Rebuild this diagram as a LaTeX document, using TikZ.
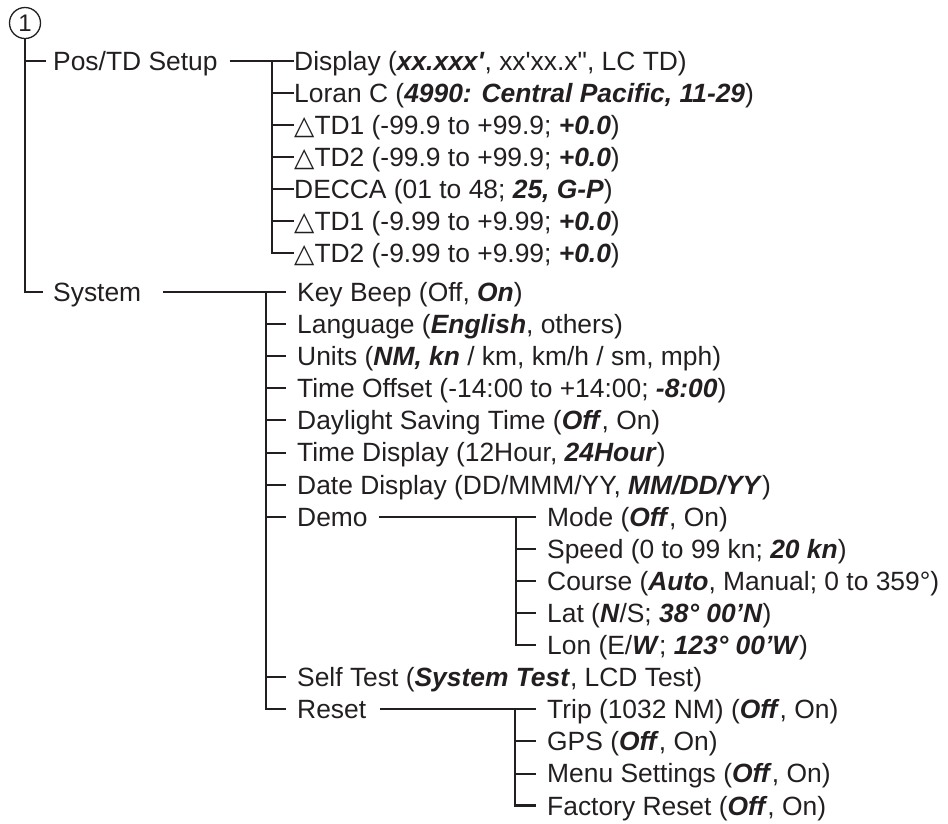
\documentclass[tikz,border=0pt]{standalone}
\usepackage{fontspec}
\setmainfont{Liberation Sans}[Ligatures=TeXOff]
\newfontfamily\symfont{DejaVu Sans}
\usetikzlibrary{calc}
\newcommand{\bi}[1]{\textbf{\textit{#1}}}
\newcommand{\tri}{{\symfont △}}
\definecolor{ink}{HTML}{231F20}
\begin{document}
\begin{tikzpicture}[x=1pt,y=-1pt,
  every node/.style={font=\fontsize{26.4}{30}\selectfont, text=ink},
  item/.style={anchor=west, inner sep=0pt, text height=25.4pt, text depth=6.5pt},
  bus/.style={draw=ink, line width=2.3pt, line join=miter, line cap=butt},
  tick/.style={draw=ink, line width=2pt, line cap=butt},
  gap/.style={shorten >=11pt}]
\useasboundingbox (0,0) rectangle (948,823);

% root
\node[circle, draw=ink, line width=1.3pt, minimum size=31pt, inner sep=0pt,
      font=\fontsize{24}{24}\selectfont] (root) at (25,23) {1};

% level 1
\node[item] (posL) at (53,61) {Pos/TD Setup};
\node[item] (sysL) at (53,292) {System};
\draw[bus] (root.south) -- (root.south |- sysL.west) -- ($(sysL.west)+(-10,0)$);
\draw[tick] (root.south |- posL.west) -- ($(posL.west)+(-7,0)$);

% Pos/TD setup items
\node[item] (p1) at (294,61)  {Display (\bi{xx.xxx'}, xx'xx.x", LC TD)};
\node[item] (p2) at (294,93)  {Loran C (\bi{4990: Central Pacific, 11-29})};
\node[item] (p3) at (294,125) {\tri TD1 (-99.9 to +99.9; \bi{+0.0})};
\node[item] (p4) at (294,157) {\tri TD2 (-99.9 to +99.9; \bi{+0.0})};
\node[item] (p5) at (294,189) {DECCA (01 to 48; \bi{25, G-P})};
\node[item] (p6) at (294,221) {\tri TD1 (-9.99 to +9.99; \bi{+0.0})};
\node[item] (p7) at (294,253) {\tri TD2 (-9.99 to +9.99; \bi{+0.0})};
\coordinate (posbus) at (272,61);
\draw[tick] ($(posL.east)+(12,0)$) -- (p1.west);
\draw[bus] (posbus) |- (p7.west);
\foreach \i in {2,...,6} \draw[tick] (p\i.west -| posbus) -- (p\i.west);

% System items
\node[item] (s1)  at (297,292.0) {Key Beep (Off, \bi{On})};
\node[item] (s2)  at (297,324.1) {Language (\bi{English}, others)};
\node[item] (s3)  at (297,356.2) {Units (\bi{NM, kn} / km, km/h / sm, mph)};
\node[item] (s4)  at (297,388.3) {Time Offset (-14:00 to +14:00; \bi{-8:00})};
\node[item] (s5)  at (297,420.4) {Daylight Saving Time (\bi{Off}, On)};
\node[item] (s6)  at (297,452.5) {Time Display (12Hour, \bi{24Hour})};
\node[item] (s7)  at (297,484.6) {Date Display (DD/MMM/YY, \bi{MM/DD/YY})};
\node[item] (s8)  at (297,516.7) {Demo};
\node[item] (s9)  at (297,677.2) {Self Test (\bi{System Test}, LCD Test)};
\node[item] (s10) at (297,709.3) {Reset};
\coordinate (sysbus) at (266,292);
\draw[tick, gap] ($(sysL.east)+(22,0)$) -- (s1.west);
\draw[bus, gap] (sysbus) |- (s10.west);
\foreach \i in {2,...,9} \draw[tick, gap] (s\i.west -| sysbus) -- (s\i.west);

% Demo items
\node[item] (d1) at (547,516.7) {Mode (\bi{Off}, On)};
\node[item] (d2) at (547,548.8) {Speed (0 to 99 kn; \bi{20 kn})};
\node[item] (d3) at (547,580.9) {Course (\bi{Auto}, Manual; 0 to 359°)};
\node[item] (d4) at (547,613.0) {Lat (\bi{N}/S; \bi{38° 00’N})};
\node[item] (d5) at (547,645.1) {Lon (E/\bi{W}; \bi{123° 00’W})};
\coordinate (demobus) at (516,516.7);
\draw[tick, gap] ($(s8.east)+(11,0)$) -- (d1.west);
\draw[bus, gap] (demobus) |- (d5.west);
\foreach \i in {2,...,4} \draw[tick, gap] (d\i.west -| demobus) -- (d\i.west);

% Reset items
\node[item] (r1) at (547,709.3) {Trip (1032 NM) (\bi{Off}, On)};
\node[item] (r2) at (547,741.4) {GPS (\bi{Off}, On)};
\node[item] (r3) at (547,773.5) {Menu Settings (\bi{Off}, On)};
\node[item] (r4) at (547,805.6) {Factory Reset (\bi{Off}, On)};
\coordinate (resetbus) at (515,709.3);
\draw[tick, gap] ($(s10.east)+(14,0)$) -- (r1.west);
\draw[bus, gap] (resetbus) |- (r4.west);
\foreach \i in {2,...,3} \draw[tick, gap] (r\i.west -| resetbus) -- (r\i.west);
\end{tikzpicture}
\end{document}
